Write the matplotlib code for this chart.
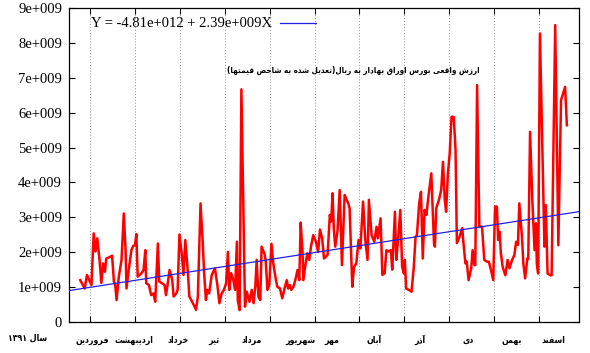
import matplotlib
matplotlib.use("Agg")
import matplotlib.pyplot as plt
import numpy as np

# position in months from start of Farvardin, value in 1e9 rial
pos = [-0.22, -0.12, -0.07, -0.02, 0.03, 0.08, 0.12, 0.16, 0.21, 0.25, 0.29, 0.33, 0.36, 0.42,
       0.49, 0.53, 0.56, 0.59, 0.64, 0.70, 0.75, 0.79, 0.81, 0.86, 0.92, 0.96, 1.00, 1.03,
       1.06, 1.14, 1.19, 1.23, 1.25, 1.31, 1.36, 1.41, 1.45, 1.51, 1.54, 1.60, 1.66, 1.69,
       1.73, 1.77, 1.83, 1.86, 1.92, 1.95, 1.99, 2.04, 2.08, 2.12, 2.18, 2.21, 2.29, 2.36,
       2.40, 2.46, 2.51, 2.54, 2.58, 2.61, 2.65, 2.71, 2.78, 2.84, 2.88, 2.93, 2.98, 3.03,
       3.07, 3.10, 3.14, 3.19, 3.23, 3.27, 3.29, 3.33, 3.37, 3.45, 3.49, 3.55, 3.60, 3.64,
       3.68, 3.71, 3.75, 3.79, 3.82, 3.88, 3.91, 3.95, 3.99, 4.04, 4.08, 4.14, 4.17, 4.23,
       4.28, 4.34, 4.38, 4.41, 4.45, 4.48, 4.53, 4.58, 4.62, 4.66, 4.69, 4.73, 4.75, 4.80,
       4.84, 4.88, 4.92, 4.97, 5.03, 5.08, 5.12, 5.17, 5.21, 5.29, 5.34, 5.37, 5.40, 5.43,
       5.46, 5.51, 5.56, 5.61, 5.67, 5.75, 5.78, 5.84, 5.88, 5.93, 5.98, 6.02, 6.08, 6.13,
       6.18, 6.21, 6.27, 6.33, 6.38, 6.41, 6.47, 6.51, 6.56, 6.60, 6.65, 6.70, 6.73, 6.79,
       6.82, 6.86, 6.91, 6.95, 6.99, 7.01, 7.04, 7.10, 7.16, 7.21, 7.25, 7.28, 7.33, 7.37,
       7.41, 7.45, 7.49, 7.54, 7.60, 7.66, 7.68, 7.71, 7.77, 7.82, 7.86, 7.90, 7.93, 7.97,
       8.01, 8.05, 8.10, 8.14, 8.17, 8.23, 8.29, 8.31, 8.36, 8.39, 8.43, 8.49, 8.52, 8.56,
       8.58, 8.62, 8.67, 8.73, 8.78, 8.84, 8.88, 8.93, 8.98, 9.02, 9.06, 9.09, 9.12, 9.15,
       9.19, 9.25, 9.30, 9.34, 9.40, 9.45, 9.49, 9.53, 9.56, 9.62, 9.65, 9.69, 9.74, 9.76,
       9.80, 9.85, 9.90, 9.93, 9.95, 9.98, 10.02, 10.12, 10.15, 10.19, 10.25, 10.28, 10.36,
       10.43, 10.49, 10.58, 10.62]
val = [1.20, 0.96, 1.35, 1.20, 1.06, 2.54, 2.02, 2.40, 1.78, 1.12, 1.68, 1.44, 1.82, 1.85,
       1.90, 1.16, 1.06, 0.63, 1.30, 1.78, 3.11, 2.06, 0.96, 1.49, 2.06, 2.18, 2.20, 2.52,
       1.30, 1.39, 1.49, 2.06, 1.11, 1.06, 0.77, 0.82, 0.58, 2.25, 1.16, 1.11, 1.06, 0.77,
       1.11, 1.49, 1.20, 0.73, 0.82, 0.92, 2.51, 1.97, 1.35, 2.35, 1.39, 0.73, 0.54, 0.35,
       0.73, 3.40, 2.25, 1.40, 0.63, 0.92, 0.82, 1.35, 1.54, 1.01, 0.54, 0.82, 0.92, 1.11,
       2.01, 0.92, 1.40, 1.20, 0.92, 2.30, 0.63, 0.34, 6.67, 0.44, 0.87, 0.58, 0.92, 0.54,
       1.01, 1.78, 0.72, 0.63, 2.16, 1.97, 1.78, 0.92, 1.06, 2.24, 1.68, 1.20, 1.01, 0.96,
       0.68, 1.01, 1.20, 0.96, 1.06, 0.92, 1.01, 1.25, 1.49, 1.20, 2.85, 2.06, 1.20, 1.68,
       1.97, 1.78, 2.16, 2.49, 2.30, 2.01, 2.65, 2.39, 1.82, 1.92, 3.07, 2.88, 3.69, 2.64,
       2.16, 2.59, 3.78, 1.63, 3.64, 3.40, 3.26, 1.01, 1.58, 1.68, 2.35, 2.11, 3.45, 2.35,
       1.78, 3.50, 2.49, 2.30, 2.73, 2.40, 2.97, 1.35, 1.39, 2.06, 2.02, 2.06, 1.50, 3.16,
       1.78, 2.35, 3.21, 1.58, 1.39, 1.78, 0.96, 0.92, 0.87, 1.58, 2.45, 2.49, 3.40, 3.73,
       1.82, 3.21, 3.07, 3.64, 4.26, 2.26, 2.16, 3.26, 3.50, 3.78, 4.59, 3.50, 3.16, 4.26,
       4.83, 5.88, 5.88, 4.93, 2.26, 2.45, 2.69, 2.35, 1.68, 1.73, 1.20, 1.54, 2.06, 1.63,
       1.63, 6.79, 2.73, 2.73, 1.78, 1.73, 1.73, 1.49, 1.20, 3.31, 3.31, 2.35, 2.59, 1.97,
       1.58, 1.34, 1.78, 1.54, 1.78, 1.92, 2.30, 2.21, 3.40, 2.44, 1.68, 1.25, 1.82, 1.82,
       5.45, 3.49, 2.06, 2.83, 1.68, 1.39, 8.27, 2.16, 3.35, 1.39, 1.34, 1.34, 8.51,
       2.20, 6.36, 6.74, 5.64]

trend_start = 0.994      # 1e9 at month 0
trend_slope = 2.39 / 12  # 1e9 per month

months = ["فروردین", "اردیبهشت", "خرداد", "تیر", "مرداد", "شهریور",
          "مهر", "آبان", "آذر", "دی", "بهمن", "اسفند"]
month_label_pos = [0.04, 0.98, 1.96, 2.76, 3.59, 4.68, 5.39, 6.33, 7.35, 8.42, 9.38, 10.31]
title_fa = "ارزش واقعی بورس اوراق بهادار به ریال(تعدیل شده به شاخص قیمتها)"
year_word = "سال"
year_num = "۱۳۹۱"
legend_txt = "Y = -4.81e+012 + 2.39e+009X"

# isolated, final, initial, medial presentation forms
FORMS = {
    'ا': ('\uFE8D', '\uFE8E', None, None), 'آ': ('\uFE81', '\uFE82', None, None),
    'د': ('\uFEA9', '\uFEAA', None, None), 'ذ': ('\uFEAB', '\uFEAC', None, None),
    'ر': ('\uFEAD', '\uFEAE', None, None), 'ز': ('\uFEAF', '\uFEB0', None, None),
    'و': ('\uFEED', '\uFEEE', None, None),
    'ب': ('\uFE8F', '\uFE90', '\uFE91', '\uFE92'), 'ت': ('\uFE95', '\uFE96', '\uFE97', '\uFE98'),
    'خ': ('\uFEA5', '\uFEA6', '\uFEA7', '\uFEA8'), 'س': ('\uFEB1', '\uFEB2', '\uFEB3', '\uFEB4'),
    'ش': ('\uFEB5', '\uFEB6', '\uFEB7', '\uFEB8'), 'ص': ('\uFEB9', '\uFEBA', '\uFEBB', '\uFEBC'),
    'ع': ('\uFEC9', '\uFECA', '\uFECB', '\uFECC'), 'ف': ('\uFED1', '\uFED2', '\uFED3', '\uFED4'),
    'ق': ('\uFED5', '\uFED6', '\uFED7', '\uFED8'), 'ل': ('\uFEDD', '\uFEDE', '\uFEDF', '\uFEE0'),
    'م': ('\uFEE1', '\uFEE2', '\uFEE3', '\uFEE4'), 'ن': ('\uFEE5', '\uFEE6', '\uFEE7', '\uFEE8'),
    'ه': ('\uFEE9', '\uFEEA', '\uFEEB', '\uFEEC'), 'ی': ('\uFEEF', '\uFEF0', '\uFEF3', '\uFEF4'),
}


def fa(s):
    # shape persian letters and put them in visual (left to right) order
    out = []
    for i, ch in enumerate(s):
        if ch not in FORMS:
            out.append(ch)
            continue
        f = FORMS[ch]
        prev = s[i - 1] if i > 0 else ''
        nxt = s[i + 1] if i + 1 < len(s) else ''
        jp = prev in FORMS and FORMS[prev][2] is not None
        jn = f[2] is not None and nxt in FORMS
        if jp and jn:
            out.append(f[3])
        elif jp:
            out.append(f[1])
        elif jn:
            out.append(f[2])
        else:
            out.append(f[0])
    mirror = {'(': ')', ')': '('}
    return ''.join(mirror.get(c, c) for c in reversed(out))


fa_font = dict(family=['DejaVu Sans'], fontweight='bold', fontstretch='condensed')

fig = plt.figure(figsize=(5.9, 3.53), dpi=100)
ax = fig.add_axes([69 / 590, 31 / 353, 510 / 590, 314 / 353])

xmin, xmax = -0.47, 10.89
x = np.array(pos)
y = np.array(val) * 1e9
ax.plot(x, y, color='#ff0000', lw=1.8, zorder=3)

xt = np.array([xmin, xmax])
ax.plot(xt, (trend_start + trend_slope * xt) * 1e9, color='#2020e0', lw=0.9, zorder=4)

ax.set_xlim(xmin, xmax)
ax.set_ylim(0, 9e9)
ax.set_xticks(np.arange(0, 11))
ax.set_xticklabels([])
ax.set_yticks(np.arange(0, 10) * 1e9)
ax.set_yticklabels(["0"] + ["%de+009" % i for i in range(1, 10)],
                   family='Liberation Serif', fontsize=10.5)
ax.tick_params(direction='in', length=4.5, width=0.8, top=True, right=True, pad=5)
ax.grid(axis='x', linestyle=(0, (1, 2)), color='#909090', lw=0.7)
for s in ax.spines.values():
    s.set_linewidth(0.9)

# key
ax.text(0.398, 0.952, legend_txt, transform=ax.transAxes, ha='right', va='center',
        family='Liberation Serif', fontsize=10.5)
ax.plot([0.414, 0.484], [0.952, 0.952], transform=ax.transAxes, color='#2020e0', lw=0.9)

ax.text(0.557, 0.8, fa(title_fa), transform=ax.transAxes, ha='center', va='center',
        fontsize=5.8, **fa_font)

for m, p in zip(months, month_label_pos):
    ax.text(p, -0.058, fa(m), transform=ax.get_xaxis_transform(), ha='center', va='center',
            fontsize=6.3, **fa_font)
fig.text(28 / 590, 1 - 338 / 353, year_num + " " + fa(year_word), ha='center', va='center',
         fontsize=6.3, **fa_font)

fig.savefig("out.png", dpi=100)
